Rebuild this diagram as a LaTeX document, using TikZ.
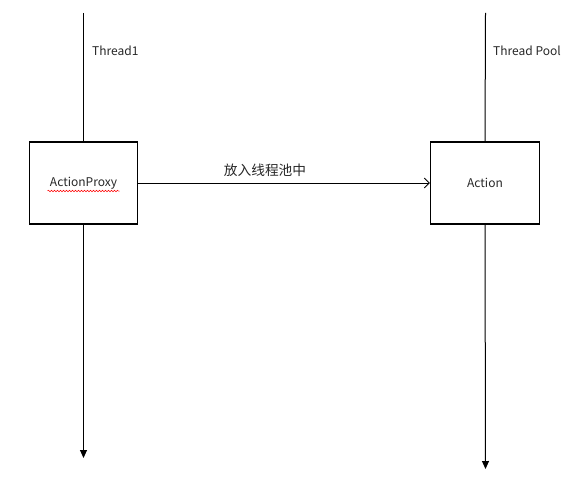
\documentclass[tikz,border=0pt]{standalone}
\usepackage{fontspec}
\setmainfont{Noto Sans CJK SC}
\usepackage{tikz}
\usetikzlibrary{arrows.meta, decorations.pathmorphing}

\begin{document}
\begin{tikzpicture}[
        x=1pt, y=-1pt,
        box/.style={draw, line width=1.1pt, minimum width=108pt, minimum height=82pt, inner sep=0pt},
        lifeline/.style={line width=1pt},
        label text/.style={inner sep=0pt, text=black!85, font=\fontsize{12}{15}\selectfont}
    ]

        \useasboundingbox (0,0) rectangle (572,481);

        % Define coordinates for the two lifelines
        \coordinate (t1top) at (83.5, 13);
        \coordinate (t1end) at (83.5, 458);
        \coordinate (tptop) at (485.5, 13);
        \coordinate (tpend) at (485.5, 469);

        % Place the two boxes
        \node[box, label text] (proxy) at (83.5, 183) {ActionProxy};
        \node[box, label text, minimum width=109pt] (action) at (485, 183) {Action};

        % Thread names
        \node[label text, anchor=west] (t1name) at (92, 51) {Thread1};
        \node[label text, anchor=west] (tpname) at (493, 51) {Thread Pool};

        % Draw the lifelines
        \draw[lifeline] (t1top) -- (proxy.north);
        \draw[lifeline, -{Triangle[length=8pt, width=7pt]}] (proxy.south) -- (t1end);
        \draw[lifeline] (tptop) -- (action.north);
        \draw[lifeline, -{Triangle[length=8pt, width=7pt]}] (action.south) -- (tpend);

        % Draw the hand-over arrow
        \draw[lifeline, -{Straight Barb[length=5pt, width=10pt]}] (proxy.east) -- (action.west)
            node[label text, font=\fontsize{13.7}{15}\selectfont, pos=0.435, yshift=13pt] {放入线程池中};

        % Spell-check underline
        \draw[red, line width=0.5pt, decorate, decoration={snake, amplitude=0.8pt, segment length=3pt}]
            ([xshift=-36pt, yshift=-8pt]proxy.center) -- ([xshift=36pt, yshift=-8pt]proxy.center);

    \end{tikzpicture}
\end{document}
